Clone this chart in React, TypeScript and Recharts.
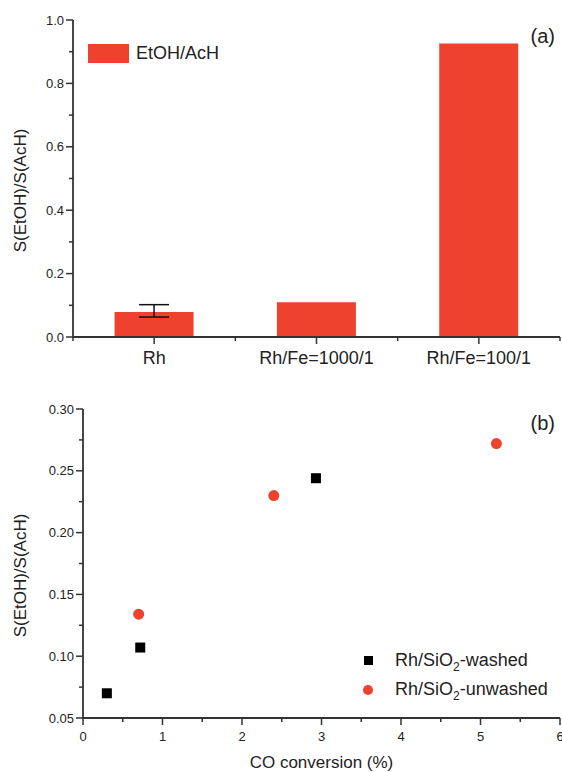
import React from 'react';
import { BarChart, Bar, ErrorBar, XAxis, YAxis, ScatterChart, Scatter, Legend } from 'recharts';

const FONT = '"Liberation Sans", Arial, Helvetica, sans-serif';
const RED = '#EE412E';
const AXIS = '#333333';
const TEXT = '#222222';

// panel (a): selectivity ratio per catalyst
const catalysts = ['Rh', 'Rh/Fe=1000/1', 'Rh/Fe=100/1'];
const ratioValues = [0.079, 0.11, 0.926];
const ratioErrors: (number[] | null)[] = [[0.016, 0.023], null, null];
const ratioTicks = [0, 0.1, 0.2, 0.3, 0.4, 0.5, 0.6, 0.7, 0.8, 0.9, 1.0];

// panel (b): ratio vs CO conversion
const seriesNames = ['Rh/SiO2-washed', 'Rh/SiO2-unwashed'];
const washedConv = [0.3, 0.72, 2.93];
const washedRatio = [0.07, 0.107, 0.244];
const unwashedConv = [0.7, 2.4, 5.2];
const unwashedRatio = [0.134, 0.23, 0.272];
const convTicks = [0, 0.5, 1, 1.5, 2, 2.5, 3, 3.5, 4, 4.5, 5, 5.5, 6];
const ratioTicksB = [0.05, 0.075, 0.1, 0.125, 0.15, 0.175, 0.2, 0.225, 0.25, 0.275, 0.3];

const barData = catalysts.map((name, i) => ({ name, ratio: ratioValues[i], err: ratioErrors[i] }));
const washedData = washedConv.map((x, i) => ({ x, y: washedRatio[i] }));
const unwashedData = unwashedConv.map((x, i) => ({ x, y: unwashedRatio[i] }));

function LeftTick(props: any) {
  const { x, y, payload, isMajor, fmt } = props;
  const major = isMajor(payload.value);
  return (
    <g>
      <line x1={x - (major ? 7 : 4)} x2={x} y1={y} y2={y} stroke={AXIS} strokeWidth={1.5} />
      {major && (
        <text x={x - 9} y={y} textAnchor="end" dominantBaseline="central" fontSize={13} fill={TEXT} fontFamily={FONT}>
          {fmt(payload.value)}
        </text>
      )}
    </g>
  );
}

function BottomTick(props: any) {
  const { x, y, payload } = props;
  const major = Number.isInteger(payload.value);
  return (
    <g>
      <line x1={x} x2={x} y1={y} y2={y + (major ? 7 : 4)} stroke={AXIS} strokeWidth={1.5} />
      {major && (
        <text x={x} y={y + 18} textAnchor="middle" dominantBaseline="central" fontSize={13} fill={TEXT} fontFamily={FONT}>
          {payload.value}
        </text>
      )}
    </g>
  );
}

function CatTick(props: any) {
  const { x, y, payload, index } = props;
  const half = payload.offset ?? 81;
  return (
    <g>
      <line x1={x} x2={x} y1={y} y2={y + 7} stroke={AXIS} strokeWidth={1.5} />
      {index === 0 && <line x1={x - half} x2={x - half} y1={y} y2={y + 4} stroke={AXIS} strokeWidth={1.5} />}
      <line x1={x + half} x2={x + half} y1={y} y2={y + 4} stroke={AXIS} strokeWidth={1.5} />
      <text x={x} y={y + 21} textAnchor="middle" dominantBaseline="central" fontSize={18} fill={TEXT} fontFamily={FONT}>
        {payload.value}
      </text>
    </g>
  );
}

const yLabel = (shift: number) => (p: any) => {
  const vb = p.viewBox;
  const cx = vb.x + 20;
  const cy = vb.y + vb.height / 2 + shift;
  return (
    <text x={cx} y={cy} transform={`rotate(-90 ${cx} ${cy})`} textAnchor="middle" dominantBaseline="central" fontSize={17} fill={TEXT} fontFamily={FONT}>
      S(EtOH)/S(AcH)
    </text>
  );
};

const withSub = (s: string) => {
  const parts = s.split('SiO2');
  if (parts.length < 2) return s;
  return (
    <>
      {parts[0]}SiO<sub style={{ fontSize: 12, verticalAlign: '-5px', lineHeight: 0 }}>2</sub>{parts[1]}
    </>
  );
};

function LegendA(props: any) {
  const items = props.payload || [];
  return (
    <div style={{ fontFamily: FONT }}>
      {items.map((it: any) => (
        <div key={it.value} style={{ display: 'flex', alignItems: 'center', height: 19 }}>
          <span style={{ display: 'inline-block', width: 41, height: 19, background: RED }} />
          <span style={{ marginLeft: 7, fontSize: 18, color: TEXT, lineHeight: '19px' }}>{it.value}</span>
        </div>
      ))}
    </div>
  );
}

function LegendB(props: any) {
  const items = [...(props.payload || [])].sort(
    (a: any, b: any) => seriesNames.indexOf(a.value) - seriesNames.indexOf(b.value)
  );
  return (
    <div style={{ fontFamily: FONT }}>
      {items.map((it: any) => (
        <div key={it.value} style={{ display: 'flex', alignItems: 'center', height: 29 }}>
          <span style={{ display: 'inline-flex', width: 12, justifyContent: 'center' }}>
            {it.type === 'circle' ? (
              <span style={{ width: 10, height: 10, borderRadius: 5, background: RED }} />
            ) : (
              <span style={{ width: 9, height: 9, background: '#000' }} />
            )}
          </span>
          <span style={{ marginLeft: 21, fontSize: 18, color: TEXT, lineHeight: '29px', whiteSpace: 'nowrap' }}>
            {withSub(it.value)}
          </span>
        </div>
      ))}
    </div>
  );
}

const squareShape = (p: any) => <rect x={p.cx - 5} y={p.cy - 5} width={10} height={10} fill="#000" />;
const circleShape = (p: any) => <circle cx={p.cx} cy={p.cy} r={5.5} fill={RED} />;

const panelTag = (top: number): React.CSSProperties => ({
  position: 'absolute',
  right: 7,
  top,
  fontSize: 20,
  fontFamily: FONT,
  color: TEXT,
  lineHeight: '20px',
});

export default function App() {
  return (
    <div style={{ position: 'absolute', left: 0, top: 0, width: 562, height: 772, background: '#fff', fontFamily: FONT }}>
      <div style={{ position: 'absolute', left: 0, top: 0 }}>
        <BarChart width={562} height={386} data={barData} margin={{ top: 20, right: 2, bottom: 4, left: 0 }} barCategoryGap="25.6%">
          <XAxis dataKey="name" height={45} axisLine={{ stroke: AXIS, strokeWidth: 1.8 }} tickLine={false} tickSize={0} tickMargin={0} interval={0} tick={(p: any) => <CatTick {...p} />} />
          <XAxis xAxisId="top" dataKey="name" orientation="top" height={0} tick={false} tickLine={false} axisLine={{ stroke: AXIS, strokeWidth: 1.8 }} />
          <YAxis
            width={73}
            domain={[0, 1]}
            ticks={ratioTicks}
            interval={0}
            allowDataOverflow
            axisLine={{ stroke: AXIS, strokeWidth: 1.8 }}
            tickLine={false}
            tickSize={0}
            tickMargin={0}
            tick={(p: any) => (
              <LeftTick {...p} isMajor={(v: number) => Math.round(v * 10) % 2 === 0} fmt={(v: number) => v.toFixed(1)} />
            )}
            label={{ content: yLabel(12) }}
          />
          <YAxis yAxisId="right" orientation="right" width={0} domain={[0, 1]} tick={false} tickLine={false} axisLine={{ stroke: AXIS, strokeWidth: 1.8 }} />
          <Legend layout="vertical" align="center" verticalAlign="middle" wrapperStyle={{ left: 88, top: 44 }} content={(p: any) => <LegendA {...p} />} />
          <Bar dataKey="ratio" name="EtOH/AcH" fill={RED} isAnimationActive={false}>
            <ErrorBar dataKey="err" width={15} stroke="#111" strokeWidth={1.5} direction="y" />
          </Bar>
        </BarChart>
        <div style={panelTag(26)}>(a)</div>
      </div>

      <div style={{ position: 'absolute', left: 0, top: 386, width: 562, height: 386 }}>
        <ScatterChart width={562} height={386} margin={{ top: 23, right: 2, bottom: 0, left: 0 }}>
          <XAxis
            type="number"
            dataKey="x"
            domain={[0, 6]}
            ticks={convTicks}
            interval={0}
            height={54}
            axisLine={{ stroke: AXIS, strokeWidth: 1.8 }}
            tickLine={false}
            tickSize={0}
            tickMargin={0}
            tick={(p: any) => <BottomTick {...p} />}
            label={{
              content: (p: any) => (
                <text x={p.viewBox.x + p.viewBox.width / 2} y={p.viewBox.y + 44} textAnchor="middle" dominantBaseline="central" fontSize={17} fill={TEXT} fontFamily={FONT}>
                  CO conversion (%)
                </text>
              ),
            }}
          />
          <XAxis xAxisId="top" type="number" orientation="top" domain={[0, 6]} height={0} tick={false} tickLine={false} axisLine={{ stroke: AXIS, strokeWidth: 1.8 }} />
          <YAxis
            type="number"
            dataKey="y"
            width={83}
            domain={[0.05, 0.3]}
            ticks={ratioTicksB}
            interval={0}
            axisLine={{ stroke: AXIS, strokeWidth: 1.8 }}
            tickLine={false}
            tickSize={0}
            tickMargin={0}
            tick={(p: any) => (
              <LeftTick {...p} isMajor={(v: number) => Math.round(v * 1000) % 50 === 0} fmt={(v: number) => v.toFixed(2)} />
            )}
            label={{ content: yLabel(12) }}
          />
          <YAxis yAxisId="right" type="number" orientation="right" width={0} domain={[0.05, 0.3]} tick={false} tickLine={false} axisLine={{ stroke: AXIS, strokeWidth: 1.8 }} />
          <Legend layout="vertical" align="center" verticalAlign="middle" wrapperStyle={{ left: 362, top: 260 }} content={(p: any) => <LegendB {...p} />} />
          <Scatter name={seriesNames[0]} data={washedData} fill="#000" legendType="square" shape={squareShape} isAnimationActive={false} />
          <Scatter name={seriesNames[1]} data={unwashedData} fill={RED} legendType="circle" shape={circleShape} isAnimationActive={false} />
        </ScatterChart>
        <div style={panelTag(27)}>(b)</div>
      </div>
    </div>
  );
}
